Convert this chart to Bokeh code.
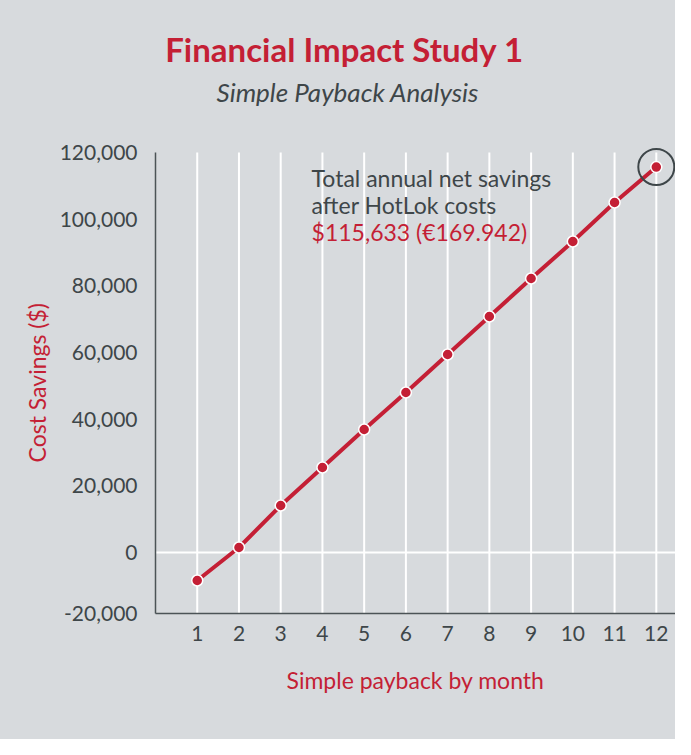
from bokeh.plotting import figure
from bokeh.models import FixedTicker, NumeralTickFormatter, Label, Span, ColumnDataSource, Title
from bokeh.embed import file_html
from bokeh.resources import INLINE

# ---- data ----
months = [1, 2, 3, 4, 5, 6, 7, 8, 9, 10, 11, 12]
savings = [-8400, 1500, 14100, 25500, 36900, 48000, 59400, 70800, 82200, 93300, 105000, 115633]
y_ticks = [0, 20000, 40000, 60000, 80000, 100000, 120000]
y_bottom = -18300
y_bottom_label = "-20,000"
y_top = 120000
title_text = "Financial Impact Study 1"
subtitle_text = "Simple Payback Analysis"
note_lines = ["Total annual net savings", "after HotLok costs"]
note_value = "$115,633 (\u20ac169.942)"
x_label = "Simple payback by month"
y_label = "Cost Savings ($)"

RED = "#c41f35"
DARK = "#3e4649"
BG = "#d7dadd"
FONT = "Lato"

p = figure(
    frame_width=520, frame_height=593,
    min_border_left=155, min_border_right=0, min_border_top=20, min_border_bottom=126,
    x_range=(0, 12.46), y_range=(y_bottom, 159600),
    output_backend="svg", toolbar_location=None, tools="",
)
p.styles = {"background-color": BG}
p.background_fill_color = BG
p.border_fill_color = BG
p.outline_line_color = None

# axes
p.xaxis.ticker = FixedTicker(ticks=months)
p.yaxis.ticker = FixedTicker(ticks=[y_bottom] + y_ticks)
p.yaxis.formatter = NumeralTickFormatter(format="0,0")
p.yaxis.major_label_overrides = {y_bottom: y_bottom_label}
p.yaxis.bounds = (y_bottom, y_top)
for ax in (p.xaxis[0], p.yaxis[0]):
    ax.axis_line_color = "#4b5356"
    ax.axis_line_width = 1.5
    ax.major_tick_line_color = None
    ax.minor_tick_line_color = None
    ax.major_tick_in = 0
    ax.major_tick_out = 0
    ax.minor_tick_in = 0
    ax.minor_tick_out = 0
    ax.major_label_text_font = FONT
    ax.major_label_text_font_size = "21px"
    ax.major_label_text_color = DARK
    ax.axis_label_text_font = FONT
    ax.axis_label_text_font_size = "23px"
    ax.axis_label_text_font_style = "normal"
    ax.axis_label_text_color = RED
p.xaxis.axis_label = x_label
p.yaxis.major_label_standoff = 18
p.xaxis.major_label_standoff = 12
p.xaxis.axis_label_standoff = 22

# y-axis title placed at the left, positioned along the bounded axis
p.add_layout(Title(text=y_label, align="left", offset=151, standoff=12,
                   text_font=FONT, text_font_size="23px", text_font_style="normal",
                   text_color=RED), "left")

# grid
p.xgrid.grid_line_color = None
p.ygrid.grid_line_color = None
p.segment(x0=months, y0=[y_bottom] * len(months), x1=months, y1=[y_top] * len(months),
          line_color="white", line_width=2)
p.add_layout(Span(location=0, dimension="width", line_color="white", line_width=2, level="underlay"))

src = ColumnDataSource(data=dict(x=months, y=savings))
p.line("x", "y", source=src, line_color=RED, line_width=4)
p.scatter("x", "y", source=src, size=11, fill_color=RED, line_color="white", line_width=1.5)

# highlight final month
p.scatter([months[-1]], [savings[-1]], size=36, fill_color=None, line_color=DARK, line_width=2)

# title & subtitle
p.add_layout(Label(x=4.53, y=151050, text=title_text, text_align="center", text_baseline="alphabetic",
                   text_font=FONT, text_font_size="33px", text_font_style="bold", text_color=RED))
p.add_layout(Label(x=4.61, y=138150, text=subtitle_text, text_align="center", text_baseline="alphabetic",
                   text_font=FONT, text_font_size="26px", text_font_style="italic", text_color=DARK))

# note
note_ys = [112500, 104400]
for t, yy in zip(note_lines, note_ys):
    p.add_layout(Label(x=3.74, y=yy, text=t, text_align="left", text_baseline="alphabetic",
                       text_font=FONT, text_font_size="23px", text_color=DARK))
p.add_layout(Label(x=3.74, y=96300, text=note_value, text_align="left", text_baseline="alphabetic",
                   text_font=FONT, text_font_size="23px", text_color=RED))

open("out.html", "w").write(file_html(p, INLINE))
